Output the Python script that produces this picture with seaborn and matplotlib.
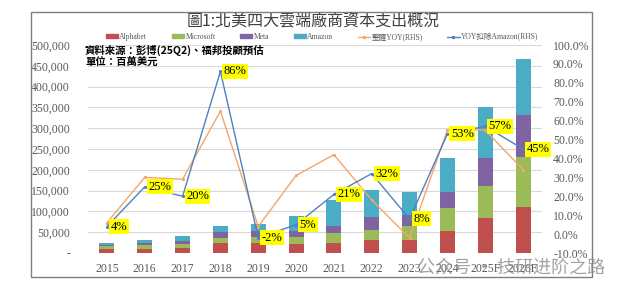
import numpy as np
import pandas as pd
import seaborn as sns
import matplotlib.pyplot as plt
from matplotlib.patches import Patch, Rectangle
from matplotlib.lines import Line2D
from matplotlib.ticker import FuncFormatter

# capex by company, million USD
years = ["2015", "2016", "2017", "2018", "2019", "2020", "2021", "2022", "2023", "2024", "2025F", "2026F"]
alphabet = [10000, 10200, 13200, 25100, 23500, 22000, 24600, 30500, 32000, 53000, 84000, 110000]
microsoft = [5900, 8300, 8100, 11600, 13900, 16500, 22500, 24000, 32000, 54000, 76000, 121000]
meta = [2500, 4500, 6700, 13900, 15100, 15000, 19000, 32000, 27000, 38500, 69000, 100000]
amazon = [4600, 9000, 12000, 14400, 17000, 35500, 62000, 64000, 56000, 82000, 121000, 135000]

# yoy growth, %
yoy_all = [6, 30, 29, 65, 4, 31, 42, 18, -2, 55, 55, 34]
yoy_ex_amzn = [4, 25, 20, 86, -2, 5, 21, 32, 8, 53, 57, 45]

C_GOOG = "#C0504D"
C_MSFT = "#9BBB59"
C_META = "#8064A2"
C_AMZN = "#4BACC6"
C_ALL = "#F4A56A"
C_EX = "#4F81BD"
GREY = "#595959"

sns.set_style("white")
plt.rcParams["font.family"] = ["Liberation Serif", "Noto Sans CJK TC"]

df = pd.DataFrame({
    "year": years,
    "goog": alphabet,
    "msft": microsoft,
    "meta": meta,
    "amzn": amazon,
    "yoy_all": yoy_all,
    "yoy_ex": yoy_ex_amzn,
})
df["l1"] = df["goog"]
df["l2"] = df["l1"] + df["msft"]
df["l3"] = df["l2"] + df["meta"]
df["l4"] = df["l3"] + df["amzn"]

fig = plt.figure(figsize=(6.24, 2.98), dpi=100)
ax = fig.add_axes([88 / 624, 1 - 253 / 298, (542 - 88) / 624, (253 - 45) / 298])

# stacked bars: draw cumulative totals from the top layer down
for col, c in [("l4", C_AMZN), ("l3", C_META), ("l2", C_MSFT), ("l1", C_GOOG)]:
    sns.barplot(data=df, x="year", y=col, color=c, saturation=1, width=0.4,
                linewidth=0, ax=ax)

ax.set_ylim(0, 500000)
ax.set_xlim(-0.5, len(years) - 0.5)
ax.set_yticks(np.arange(0, 500001, 50000))
ax.yaxis.set_major_formatter(FuncFormatter(lambda v, p: "-" if v == 0 else f"{v:,.0f}"))
ax.yaxis.grid(True, color="#d9d9d9", lw=0.8)
ax.set_axisbelow(True)
ax.tick_params(axis="y", length=0, pad=13, labelsize=8.5, labelcolor=GREY)
ax.tick_params(axis="x", length=0, pad=7, labelsize=8.5, labelcolor=GREY)
ax.set_xlabel("")
ax.set_ylabel("")
sns.despine(ax=ax, left=True, bottom=True)

ax2 = ax.twinx()
sns.pointplot(data=df, x="year", y="yoy_all", color=C_ALL, markers="o", markersize=1.5,
              linewidth=1, errorbar=None, ax=ax2)
sns.pointplot(data=df, x="year", y="yoy_ex", color=C_EX, markers="o", markersize=1.5,
              linewidth=1, errorbar=None, ax=ax2)
ax2.set_ylim(-10, 100)
ax2.set_xlim(-0.5, len(years) - 0.5)
ax2.set_yticks(np.arange(-10, 101, 10))
ax2.yaxis.set_major_formatter(FuncFormatter(lambda v, p: f"{v:.1f}%"))
ax2.tick_params(axis="y", length=0, pad=8, labelsize=8.5, labelcolor=GREY)
ax2.set_xlabel("")
ax2.set_ylabel("")
for s in ax2.spines.values():
    s.set_visible(False)

for i, v in enumerate(yoy_ex_amzn):
    ax2.annotate(f"{v}%", (i, v), xytext=(2.5, 0), textcoords="offset points",
                 ha="left", va="center", fontsize=9, color="black",
                 bbox=dict(boxstyle="square,pad=0.12", fc="#FFFF00", ec="none"))

handles = [
    Patch(color=C_GOOG, label="Alphabet"),
    Patch(color=C_MSFT, label="Microsoft"),
    Patch(color=C_META, label="Meta"),
    Patch(color=C_AMZN, label="Amazon"),
    Line2D([], [], color=C_ALL, lw=1, marker="o", ms=1.5, label="整體YOY(RHS)"),
    Line2D([], [], color=C_EX, lw=1, marker="o", ms=1.5, label="YOY扣除Amazon(RHS)"),
]
fig.legend(handles=handles, loc="center", bbox_to_anchor=(322 / 624, 1 - 37 / 298),
           ncol=6, frameon=False, fontsize=5.5, handlelength=1.6, handleheight=0.4,
           columnspacing=3.2, handletextpad=0.2, labelcolor=GREY)

fig.text(313 / 624, 1 - 21 / 298, "圖1:北美四大雲端廠商資本支出概況", ha="center", va="center",
         fontsize=11.5, color="#404040", family=["Noto Sans CJK TC"])
fig.text(85 / 624, 1 - 50 / 298, "資料來源：彭博(25Q2)、福邦投顧預估", ha="left", va="center",
         fontsize=7.5, fontweight="bold", color="black", family=["Noto Sans CJK TC"])
fig.text(85 / 624, 1 - 62 / 298, "單位：百萬美元", ha="left", va="center",
         fontsize=7.5, fontweight="bold", color="black", family=["Noto Sans CJK TC"])

# outer chart frame
fig.patches.append(Rectangle((31 / 624, 1 - 277 / 298), (592 - 31) / 624, (277 - 12) / 298,
                             transform=fig.transFigure, fill=False, ec="#7f7f7f", lw=1))

fig.text(605 / 624, 1 - 268 / 298, "公众号 · 技研进阶之路", ha="right", va="center",
         fontsize=13, color="#8c8c8c", alpha=0.8, family=["Noto Sans CJK SC"])

fig.savefig("out.png", dpi=100)
